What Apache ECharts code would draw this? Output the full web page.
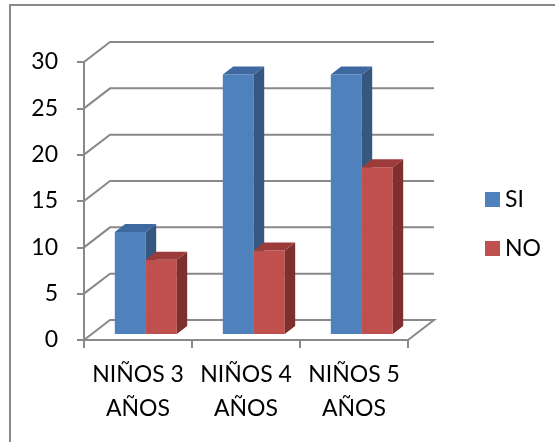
<!DOCTYPE html>
<html>
<head>
<meta charset="utf-8">
<script src="https://cdn.jsdelivr.net/npm/echarts@6/dist/echarts.min.js"></script>
<style>
  html, body { margin: 0; padding: 0; background: #fff; }
  #chart { width: 555px; height: 442px; }
</style>
</head>
<body>
<div id="chart"></div>
<script>
// Data
const categories = ['NIÑOS 3\nAÑOS', 'NIÑOS 4\nAÑOS', 'NIÑOS 5\nAÑOS'];
const seriesNames = ['SI', 'NO'];
const siValues = [11, 28, 28];
const noValues = [8, 9, 18];
const yTicks = [0, 5, 10, 15, 20, 25, 30];

// Pseudo-3D look: depth of the plot box and where bars sit inside it
const DEPTH = [26, -20];
const BAR_FRONT = 0.3;
const BAR_DEPTH = 0.4;
const BAR_WIDTH_RATIO = 0.287;
const LINE = '#898989';
const FONT = 'Lato';

const palette = {
  SI: { front: '#4F81BD', side: '#34587F', top: '#3E69A0' },
  NO: { front: '#C0504D', side: '#7E302E', top: '#9C3B39' }
};

// Back wall gridlines plus the slanted connectors to the front axis
function renderWall(params, api) {
  const v = api.value(1);
  const band = api.size([1, 0])[0];
  const leftPt = api.coord([0, v]);
  const rightPt = api.coord([categories.length - 1, v]);
  const xl = leftPt[0] - band / 2;
  const xr = rightPt[0] + band / 2;
  const y = leftPt[1];
  const pts = [[xl, y], [xl + DEPTH[0], y + DEPTH[1]], [xr + DEPTH[0], y + DEPTH[1]]];
  if (v === 0) pts.push([xr, y]);
  return {
    type: 'polyline',
    shape: { points: pts },
    style: { stroke: LINE, lineWidth: 2, fill: null }
  };
}

function barRenderer(slot, colors) {
  return function (params, api) {
    const cat = api.value(0);
    const val = api.value(1);
    const base = api.coord([cat, 0]);
    const top = api.coord([cat, val]);
    const band = api.size([1, 0])[0];
    const w = band * BAR_WIDTH_RATIO;
    const ox = DEPTH[0] * BAR_FRONT, oy = DEPTH[1] * BAR_FRONT;
    const dx = DEPTH[0] * BAR_DEPTH, dy = DEPTH[1] * BAR_DEPTH;
    const x0 = base[0] - w + slot * w + ox;
    const x1 = x0 + w;
    const yb = base[1] + oy;
    const yt = top[1] + oy;
    return {
      type: 'group',
      children: [
        { type: 'rect', shape: { x: x0, y: yt, width: w, height: yb - yt }, style: { fill: colors.front } },
        { type: 'polygon', shape: { points: [[x1, yb], [x1 + dx, yb + dy], [x1 + dx, yt + dy], [x1, yt]] }, style: { fill: colors.side } },
        { type: 'polygon', shape: { points: [[x0, yt], [x0 + dx, yt + dy], [x1 + dx, yt + dy], [x1, yt]] }, style: { fill: colors.top } }
      ]
    };
  };
}

const chart = echarts.init(document.getElementById('chart'), null, { renderer: 'canvas' });

chart.setOption({
  animation: false,
  backgroundColor: '#fff',
  textStyle: { fontFamily: FONT },
  graphic: [
    {
      type: 'rect',
      shape: { x: 10, y: 5, width: 600, height: 500 },
      style: { fill: null, stroke: LINE, lineWidth: 2 },
      silent: true
    }
  ],
  legend: {
    data: seriesNames,
    orient: 'vertical',
    left: 485,
    top: 188,
    padding: 0,
    itemWidth: 15,
    itemHeight: 15,
    itemGap: 26,
    icon: 'rect',
    textStyle: { fontFamily: FONT, fontSize: 23, lineHeight: 23, color: '#000' }
  },
  grid: { left: 84, top: 62, width: 324, height: 278 },
  xAxis: {
    type: 'category',
    data: categories,
    boundaryGap: true,
    axisLine: { lineStyle: { color: LINE, width: 2 } },
    axisTick: { show: true, length: 8, lineStyle: { color: LINE, width: 2 } },
    axisLabel: { fontFamily: FONT, fontSize: 23, lineHeight: 33.5, color: '#000', margin: 18, interval: 0 },
    splitLine: { show: false }
  },
  yAxis: {
    type: 'value',
    min: 0,
    max: 30,
    interval: 5,
    axisLine: { show: true, lineStyle: { color: LINE, width: 2 } },
    axisTick: { show: true, length: 7, lineStyle: { color: LINE, width: 2 } },
    axisLabel: { fontFamily: FONT, fontSize: 23, color: '#000', margin: 26 },
    splitLine: { show: false }
  },
  series: [
    {
      name: 'wall',
      type: 'custom',
      clip: false,
      silent: true,
      z: 1,
      data: yTicks.map(v => [0, v]),
      renderItem: renderWall
    },
    {
      name: 'SI',
      type: 'custom',
      clip: false,
      z: 2,
      itemStyle: { color: palette.SI.front },
      data: siValues.map((v, i) => [i, v]),
      renderItem: barRenderer(0, palette.SI)
    },
    {
      name: 'NO',
      type: 'custom',
      clip: false,
      z: 3,
      itemStyle: { color: palette.NO.front },
      data: noValues.map((v, i) => [i, v]),
      renderItem: barRenderer(1, palette.NO)
    }
  ]
});
</script>
</body>
</html>
